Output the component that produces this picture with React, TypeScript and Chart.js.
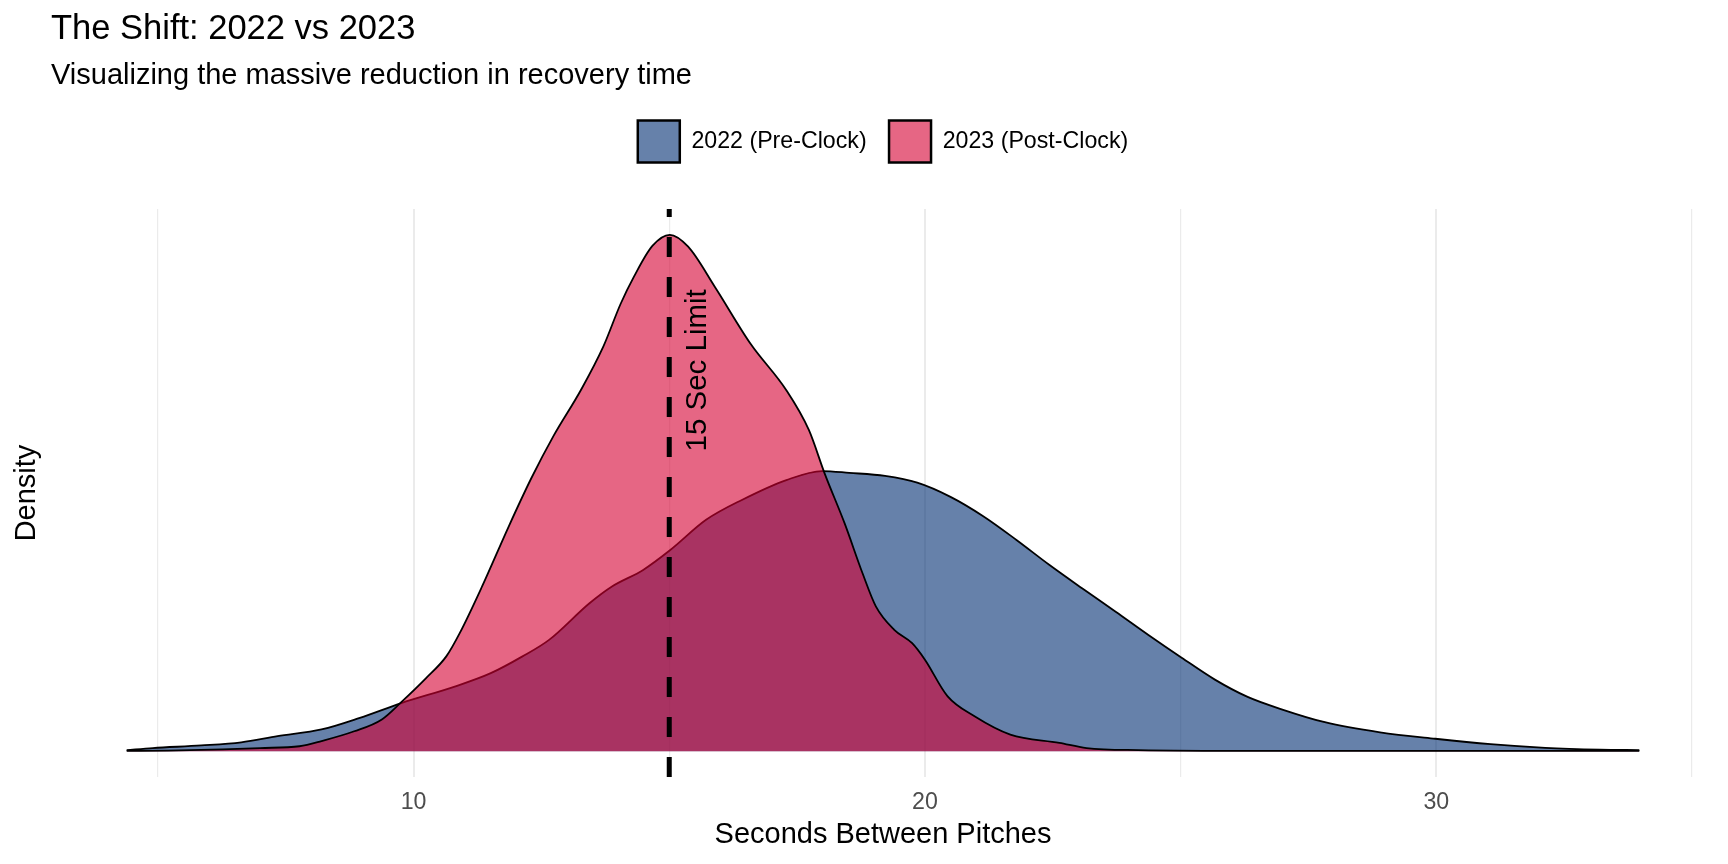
import { useEffect, useRef } from 'react';
import Chart from 'chart.js/auto';

const FONT = "'Liberation Sans', Arial, Helvetica, sans-serif";

// density estimates (seconds between pitches -> density)
const seconds2022 = [
  4.39, 4.9, 5.85, 6.63, 7.34, 8.2, 8.95, 9.76, 10.82, 11.51, 12.13, 12.65, 13.44, 13.88, 14.49,
  15.02, 15.72, 16.42, 17.29, 17.99, 18.52, 19.22, 19.85, 20.5, 21.14, 21.79, 22.43, 23.08, 23.73,
  24.37, 25.02, 25.67, 26.31, 26.96, 27.82, 28.9, 29.98, 31.06, 32.13, 33.2, 33.97,
];
const density2022 = [
  0.0004, 0.0012, 0.0022, 0.0034, 0.0058, 0.0084, 0.0129, 0.0186, 0.0251, 0.0302, 0.0367, 0.0431,
  0.0573, 0.0638, 0.0702, 0.0779, 0.0896, 0.0973, 0.105, 0.1085, 0.1078, 0.1066, 0.104, 0.0985,
  0.091, 0.0818, 0.0722, 0.063, 0.054, 0.045, 0.0362, 0.0277, 0.021, 0.0163, 0.0112, 0.0073,
  0.0048, 0.0027, 0.0013, 0.0006, 0.0004,
];

const seconds2023 = [
  4.39, 5.2, 6.26, 7.0, 7.77, 8.2, 8.84, 9.38, 9.76, 10.24, 10.64, 10.9, 11.34, 11.86, 12.3, 12.74,
  13.27, 13.71, 14.05, 14.31, 14.67, 15.01, 15.37, 15.89, 16.59, 17.29, 17.73, 18.04, 18.43, 18.78,
  19.04, 19.4, 19.75, 20.0, 20.44, 20.97, 21.67, 22.63, 23.16, 24.17, 26.5, 30.0, 33.97,
];
const density2023 = [
  0.0001, 0.0002, 0.0007, 0.0012, 0.0019, 0.0039, 0.0077, 0.0123, 0.019, 0.0282, 0.0367, 0.0456,
  0.0638, 0.087, 0.1056, 0.1222, 0.1398, 0.1567, 0.1733, 0.1838, 0.1957, 0.2, 0.1954, 0.1799,
  0.1578, 0.1398, 0.1244, 0.1075, 0.0882, 0.0689, 0.0561, 0.047, 0.0418, 0.0354, 0.0213, 0.0135,
  0.0064, 0.0032, 0.0012, 0.0004, 0.0001, 0.0001, 0.0001,
];

const gridTicks = [5, 10, 15, 20, 25, 30, 35];
const tickLabels = [10, 20, 30];
const xRange = [2.91, 35.45];
const yRange = [-0.01, 0.21];

const clockLimit = 15;
const limitLabel = '15 Sec Limit';
const limitLabelX = 15.55;
const limitLabelY = 0.1475;

// ggplot-ish vline + rotated label
const clockLine = {
  id: 'clockLine',
  afterDatasetsDraw(chart: any) {
    const { ctx, chartArea, scales } = chart;
    const x = scales.x.getPixelForValue(clockLimit);
    ctx.save();
    ctx.strokeStyle = '#000';
    ctx.lineWidth = 5;
    ctx.setLineDash([20, 20]);
    ctx.beginPath();
    ctx.moveTo(x, chartArea.bottom);
    ctx.lineTo(x, chartArea.top);
    ctx.stroke();
    ctx.setLineDash([]);

    ctx.translate(scales.x.getPixelForValue(limitLabelX), scales.y.getPixelForValue(limitLabelY));
    ctx.rotate(-Math.PI / 2);
    ctx.font = `29.5px ${FONT}`;
    ctx.fillStyle = '#000';
    ctx.textAlign = 'center';
    ctx.textBaseline = 'middle';
    ctx.fillText(limitLabel, 0, 0);
    ctx.restore();
  },
};

// leave some room between legend and panel
const legendGap = {
  id: 'legendGap',
  beforeInit(chart: any) {
    const legend = chart.legend;
    if (!legend) return;
    const fit = legend.fit;
    legend.fit = function () {
      fit.call(this);
      this.height += 36.4;
    };
  },
};

const App = () => {
  const chartRef = useRef<HTMLCanvasElement>(null);

  useEffect(() => {
    let chart: Chart | undefined;
    if (chartRef.current) {
      chart = new Chart(chartRef.current, {
        type: 'line',
        data: {
          datasets: [
            {
              label: '2022 (Pre-Clock)',
              data: seconds2022.map((x, i) => ({ x, y: density2022[i] })),
              backgroundColor: 'rgba(0,45,114,0.6)',
              borderColor: '#000',
              borderWidth: 1.8,
              fill: 'origin',
              pointRadius: 0,
              cubicInterpolationMode: 'monotone',
              order: 1,
            },
            {
              label: '2023 (Post-Clock)',
              data: seconds2023.map((x, i) => ({ x, y: density2023[i] })),
              backgroundColor: 'rgba(213,0,50,0.6)',
              borderColor: '#000',
              borderWidth: 1.8,
              fill: 'origin',
              pointRadius: 0,
              cubicInterpolationMode: 'monotone',
              order: 0,
            },
          ],
        },
        options: {
          animation: false,
          responsive: true,
          maintainAspectRatio: false,
          layout: { padding: { top: 0, right: 13, bottom: 0, left: 0 } },
          plugins: {
            title: {
              display: true,
              text: 'The Shift: 2022 vs 2023',
              align: 'start',
              fullSize: false,
              color: '#000',
              font: { family: FONT, size: 34.5, weight: 'normal' },
              padding: { top: 9, bottom: 0 },
            },
            subtitle: {
              display: true,
              text: 'Visualizing the massive reduction in recovery time',
              align: 'start',
              fullSize: false,
              color: '#000',
              font: { family: FONT, size: 29, weight: 'normal' },
              padding: { top: 8, bottom: 5 },
            },
            legend: {
              position: 'top',
              align: 'center',
              fullSize: false,
              labels: {
                boxWidth: 42,
                boxHeight: 42,
                padding: 22.4,
                color: '#000',
                font: { family: FONT, size: 23.2 },
                sort: (a: any, b: any) => a.datasetIndex - b.datasetIndex,
                generateLabels: (c: any) =>
                  Chart.defaults.plugins.legend.labels
                    .generateLabels(c)
                    .map((item: any) => ({ ...item, lineWidth: 2.5 })),
              },
            },
            tooltip: { enabled: false },
          },
          scales: {
            x: {
              type: 'linear',
              min: xRange[0],
              max: xRange[1],
              afterBuildTicks: (axis: any) => {
                axis.ticks = gridTicks.map((value) => ({ value }));
              },
              ticks: {
                autoSkip: false,
                maxRotation: 0,
                padding: 11.7,
                color: '#4D4D4D',
                font: { family: FONT, size: 23.2 },
                callback: (value: any) => (tickLabels.includes(Number(value)) ? String(value) : ''),
              },
              grid: {
                color: '#EBEBEB',
                lineWidth: (ctx: any) => (tickLabels.includes(ctx.tick?.value) ? 2 : 1.2),
                drawTicks: false,
              },
              border: { display: false },
              title: {
                display: true,
                text: 'Seconds Between Pitches',
                color: '#000',
                font: { family: FONT, size: 29, lineHeight: 0.4 },
                padding: { top: 1, bottom: 23.2 },
              },
            },
            y: {
              type: 'linear',
              min: yRange[0],
              max: yRange[1],
              ticks: { display: false },
              grid: { display: false, drawTicks: false },
              border: { display: false },
              title: {
                display: true,
                text: 'Density',
                color: '#000',
                font: { family: FONT, size: 29 },
                padding: { top: 10, bottom: 6.2 },
              },
            },
          },
        },
        plugins: [clockLine, legendGap],
      });
    }
    return () => {
      chart?.destroy();
    };
  }, []);

  return (
    <div style={{ position: 'fixed', left: 0, top: 0, width: 1728, height: 864, background: '#fff' }}>
      <canvas ref={chartRef}></canvas>
    </div>
  );
};

export default App;
